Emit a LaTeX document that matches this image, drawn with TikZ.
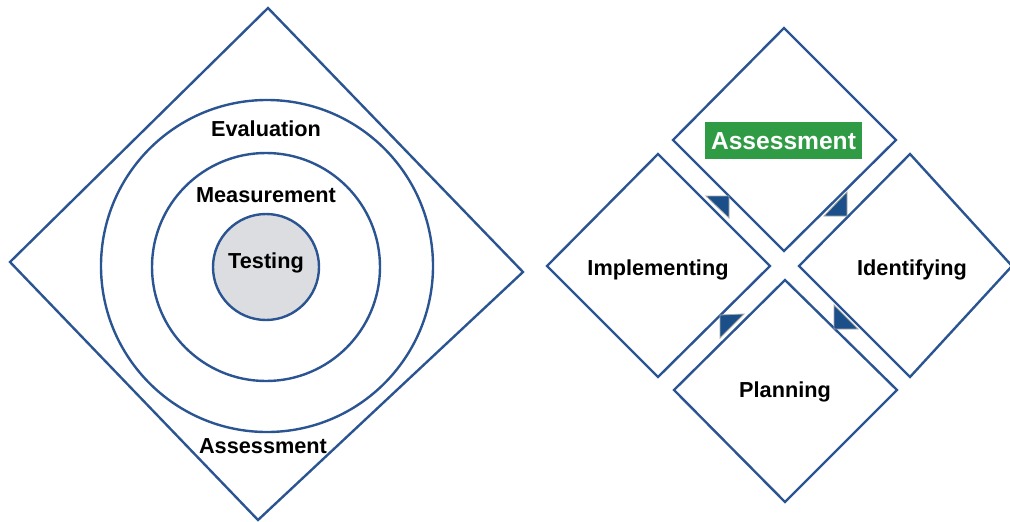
\documentclass[tikz,border=0pt]{standalone}
\usepackage{fontspec}
\setmainfont{Liberation Sans}
\definecolor{lineblue}{HTML}{2B5592}
\definecolor{tribl}{HTML}{1B4F8A}
\definecolor{trigray}{HTML}{A8A8A8}
\definecolor{disc}{HTML}{DCDDE0}
\definecolor{greenbox}{HTML}{2F9C45}
\tikzset{
  edge/.style={draw=lineblue, line width=2.4pt, line join=miter},
  lbl/.style={font=\bfseries\fontsize{21.7}{26}\selectfont, text=black, inner sep=0pt, text height=15.5pt, text depth=0pt},
  tri/.style={fill=tribl, draw=trigray, line width=0.8pt, line join=miter},
}
\begin{document}
\begin{tikzpicture}[x=1pt,y=-1pt]
\useasboundingbox (0,0) rectangle (1010,522);
% ---- left figure ----
\coordinate (LT) at (268,8);
\coordinate (LR) at (523,272);
\coordinate (LB) at (258,520);
\coordinate (LL) at (10,262);
\draw[edge] (LT) -- (LR) -- (LB) -- (LL) -- cycle;
\node[edge, circle, minimum size=332pt, inner sep=0pt] (outer) at (267,266) {};
\node[edge, circle, minimum size=228pt, inner sep=0pt] (middle) at (266,267) {};
\node[edge, circle, fill=disc, minimum size=106pt, inner sep=0pt] (inner) at (266,267) {};
\node[lbl] (eval) at (266,129) {Evaluation};
\node[lbl] (meas) at (266,195) {Measurement};
\node[lbl] (test) at (266,261) {Testing};
\node[lbl] (assL) at (263,446) {Assessment};
% ---- right figure ----
% top (Assessment)
\draw[edge] (784,28) -- (896,140) -- (784,251) -- (673,140) -- cycle;
% left (Implementing)
\draw[edge] (658,154) -- (770,266) -- (658,377) -- (547,266) -- cycle;
% right (Identifying)
\draw[edge] (910,154) -- (1012,266) -- (910,377) -- (799,266) -- cycle;
% bottom (Planning)
\draw[edge] (785,280) -- (897,390) -- (785,502) -- (674,390) -- cycle;
\node[fill=greenbox, minimum width=157pt, minimum height=37pt, inner sep=0pt] (assbox) at (783.5,140.5) {};
\node[lbl, text=white, font=\bfseries\fontsize{24.6}{29}\selectfont, text height=17.5pt] (assR) at (783.5,140.5) {Assessment};
\node[lbl] (impl) at (658,268) {Implementing};
\node[lbl] (iden) at (912,268) {Identifying};
\node[lbl] (plan) at (785,390) {Planning};
% small triangles
\draw[tri] (706,196) -- (729,196) -- (729,218) -- cycle;
\draw[tri] (847,192) -- (847,216) -- (824,216) -- cycle;
\draw[tri] (720,315) -- (744,314) -- (720,338) -- cycle;
\draw[tri] (834,305) -- (834,329) -- (858,329) -- cycle;
\end{tikzpicture}
\end{document}
